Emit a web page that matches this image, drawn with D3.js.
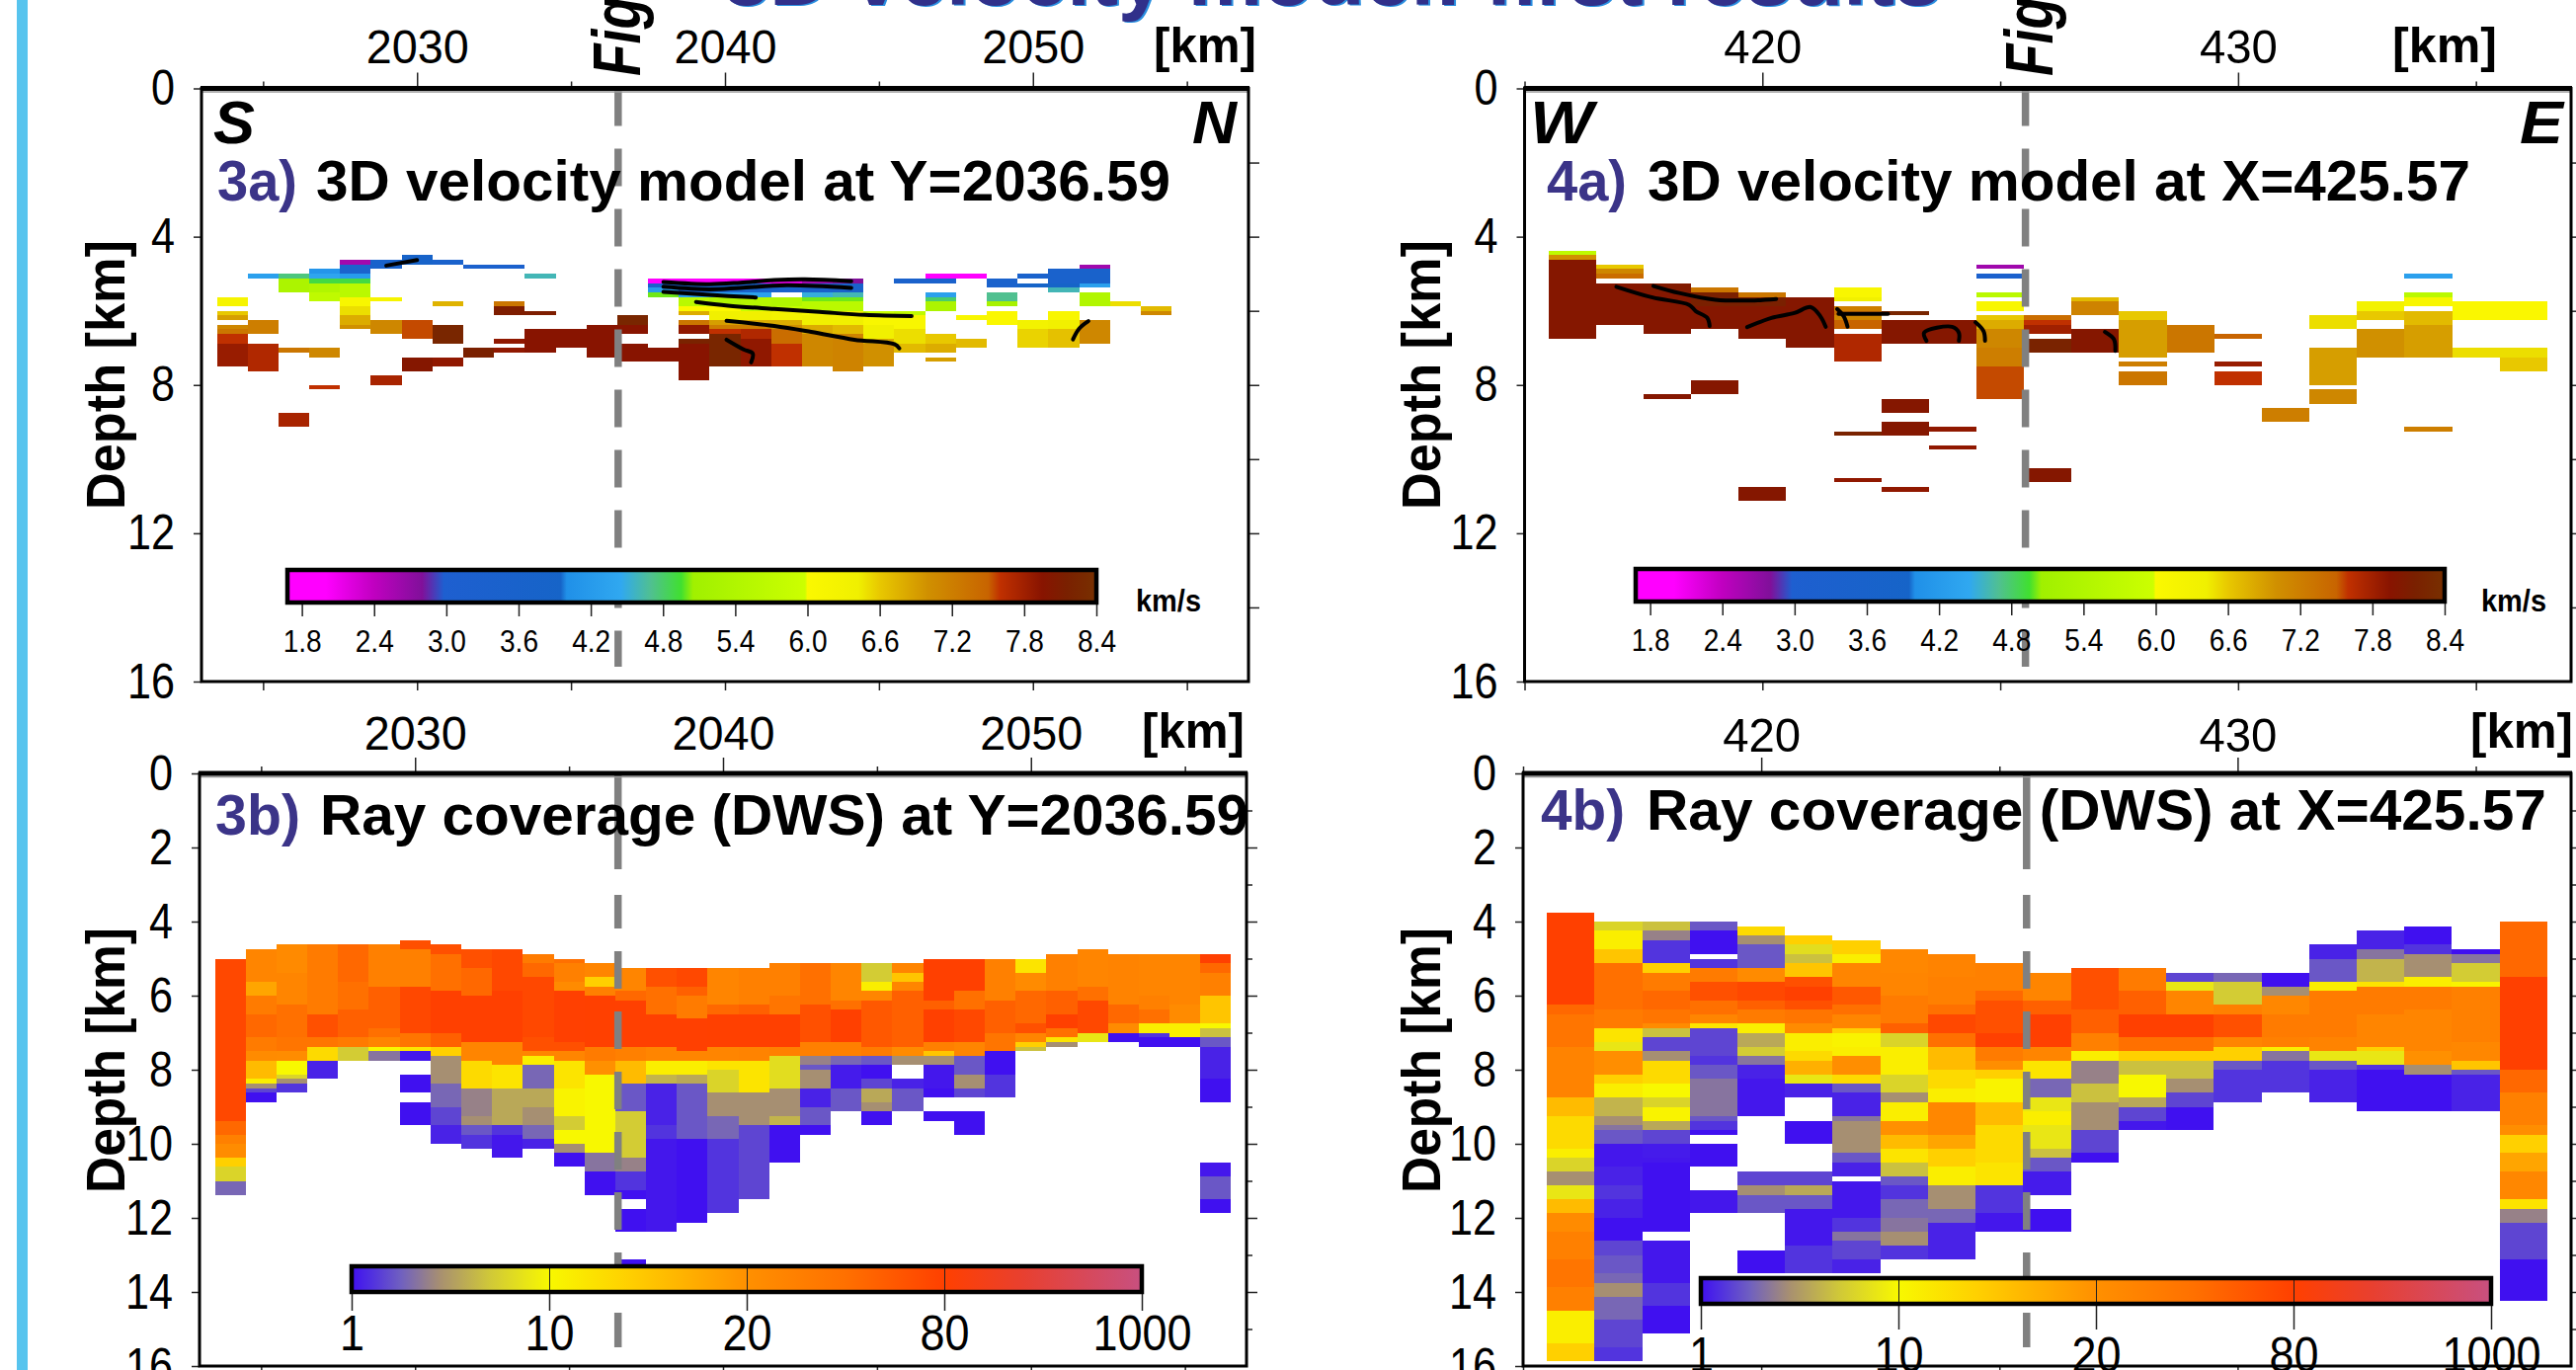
<!DOCTYPE html>
<html><head><meta charset="utf-8">
<script src="https://cdnjs.cloudflare.com/ajax/libs/d3/7.8.5/d3.min.js"></script>
<style>html,body{margin:0;padding:0;background:#fff;overflow:hidden}svg{display:block}text{font-family:"Liberation Sans",Arial,sans-serif}</style>
</head><body><svg id="c" width="2608" height="1387"></svg>
<script>
// ---- colour tables ----
const velStops=[1.68,2.0,2.4,2.8,2.98,3.95,4.0,4.45,4.7,4.95,5.05,5.98,6.0,6.42,6.6,7.0,7.5,7.6,7.95,8.15,8.4];
const velColors=["#ff00ff","#ff00ff","#c000c0","#80109a","#1e5fd0","#1664c8","#2090e8","#30a8f0","#50c090","#40e030","#a0f000","#ccff00","#fbf800","#f0f000","#e8c800","#d09000","#c86400","#c03000","#881400","#7a2000","#783000"];
const dwsTicks=[1,10,20,80,1000];
const dwsPos=[0,1,2,3,4];
const dwsColorPos=[0,0.1,0.25,0.45,0.7,1,1.4,2,2.5,3,3.4,4];
const dwsColors=["#4010f0","#5030e0","#7060c0","#a89070","#d0c838","#f8f800","#ffd000","#ff9000","#ff7000","#ff4000","#e84030","#c85080"];
const velTicks=[1.8,2.4,3.0,3.6,4.2,4.8,5.4,6.0,6.6,7.2,7.8,8.4];

// ---- section 3a: velocity, one list per 1-km column from 2024 km, [top depth, km/s], null = no data ----
const vel3a=[
[[5.625,6.2],[5.875,null],[6,6.6],[6.125,6.9],[6.25,null],[6.375,7.1],[6.5,7.3],[6.625,7.6],[6.875,7.85],[7.5,null]],
[[5,4.3],[5.125,null],[6.25,7.2],[6.625,null],[6.875,7.7],[7.625,null]],
[[5,4.75],[5.125,5.3],[5.5,null],[7,7.3],[7.125,null],[8.75,7.75],[9.125,null]],
[[4.875,4.1],[5,4.4],[5.125,4.9],[5.25,5.4],[5.5,5.7],[5.75,null],[7,7.1],[7.25,null],[8,7.6],[8.125,null]],
[[4.625,2.6],[4.75,3.5],[5,4.2],[5.125,4.9],[5.25,5.6],[5.625,6.1],[5.875,6.5],[6.125,6.8],[6.375,7.0],[6.5,null]],
[[4.625,3.6],[4.875,null],[5.625,6.2],[5.75,null],[6.25,7.1],[6.625,null],[7.75,7.75],[8,null]],
[[4.5,3.8],[4.75,null],[6.25,7.55],[6.75,null],[7.25,8.0],[7.625,null]],
[[4.625,3.5],[4.75,null],[5.75,6.75],[5.875,null],[6.375,8.25],[6.875,null],[7.25,7.9],[7.5,null]],
[[4.75,3.4],[4.875,null],[7,8.15],[7.25,null]],
[[4.75,3.4],[4.875,null],[5.75,7.3],[5.875,8.1],[6.125,null],[6.75,7.9],[6.875,null],[7,7.9],[7.125,null]],
[[5,4.6],[5.125,null],[6,8.1],[6.125,null],[6.5,7.95],[7.125,null]],
[[6.5,7.95],[7,null]],
[[6.375,7.95],[7.25,null]],
[[6.125,8.25],[6.375,7.95],[6.625,null],[6.875,7.95],[7.375,null]],
[[5.125,2.0],[5.25,3.4],[5.375,4.2],[5.5,5.0],[5.625,null],[7,7.95],[7.375,null]],
[[5.125,2.0],[5.25,3.5],[5.5,4.3],[5.625,5.6],[5.875,6.0],[6,6.8],[6.125,null],[6.25,7.3],[6.375,7.9],[6.625,null],[6.75,8.2],[6.875,7.95],[7.875,null]],
[[5.125,2.0],[5.25,3.6],[5.5,4.3],[5.625,5.4],[5.875,6.0],[6,6.4],[6.25,6.9],[6.375,7.2],[6.5,7.6],[6.625,8.25],[7.5,null]],
[[5.125,2.0],[5.25,3.6],[5.5,4.3],[5.625,5.5],[5.875,5.9],[6,6.4],[6.25,6.8],[6.375,7.2],[6.5,7.7],[6.75,7.9],[7.5,null]],
[[5.125,2.2],[5.25,3.6],[5.5,null],[5.625,5.4],[5.875,5.8],[6,6.3],[6.25,6.8],[6.375,7.0],[6.5,7.4],[6.875,7.6],[7.5,null]],
[[5.125,2.6],[5.25,3.6],[5.5,4.5],[5.625,5.0],[5.75,5.6],[6,6.1],[6.125,6.4],[6.375,6.8],[6.625,7.1],[7.5,null]],
[[5.125,2.8],[5.25,3.6],[5.5,4.6],[5.625,5.0],[5.75,5.6],[6,6.1],[6.125,6.4],[6.375,6.7],[6.625,7.15],[7.625,null]],
[[6,5.9],[6.125,6.1],[6.375,6.4],[6.75,6.8],[6.875,7.0],[7.5,null]],
[[5.125,3.5],[5.25,null],[6,5.7],[6.125,6.1],[6.5,6.5],[6.875,6.7],[7.125,null]],
[[5,2.0],[5.125,3.5],[5.25,null],[5.5,4.3],[5.625,4.8],[5.75,5.3],[6,null],[6.625,6.6],[6.875,6.8],[7.125,null],[7.25,6.9],[7.375,null]],
[[5,2.0],[5.125,null],[6.125,6.1],[6.25,null],[6.75,6.7],[7,null]],
[[5.125,3.5],[5.375,null],[5.5,4.7],[5.75,5.2],[5.875,null],[6,6.05],[6.375,null]],
[[5,3.5],[5.125,null],[5.25,3.9],[5.375,null],[6.25,6.3],[6.5,6.55],[7,null]],
[[4.875,3.5],[5.25,3.9],[5.375,4.6],[5.5,null],[6,6.1],[6.25,6.4],[6.5,6.65],[7,null]],
[[4.75,2.6],[4.875,3.6],[5.25,4.3],[5.375,null],[5.5,5.4],[5.875,null],[6.25,7.1],[6.875,null]],
[[5.75,6.5],[5.875,null]],
[[5.875,6.7],[6,7.1],[6.125,null]]
];
// ---- section 4a: velocity, columns from 416 km ----
const vel4a=[
[[4.375,5.7],[4.5,7.0],[4.625,8.0],[6.75,null]],
[[4.75,6.6],[4.875,7.1],[5,7.4],[5.125,null],[5.25,8.0],[6.375,null]],
[[5.25,8.05],[5.5,8.0],[6.625,null],[8.25,8.0],[8.375,null]],
[[5.375,7.3],[5.5,8.15],[5.875,8.0],[6.5,null],[7.875,8.0],[8.25,null]],
[[5.5,7.3],[5.625,8.15],[5.875,8.0],[6.75,null],[10.75,8.0],[11.125,null]],
[[5.625,8.0],[7,null]],
[[5.375,6.1],[5.625,6.4],[5.75,null],[5.875,7.2],[6,7.4],[6.125,7.1],[6.25,7.5],[6.5,null],[6.625,7.7],[7.375,null],[9.25,8.2],[9.375,null],[10.5,7.9],[10.625,null]],
[[6,8.25],[6.125,null],[6.25,8.0],[6.875,null],[8.375,8.0],[8.75,null],[9,8.0],[9.375,null],[10.75,7.9],[10.875,null]],
[[6.25,8.0],[6.875,null],[9.125,7.9],[9.25,null],[9.625,7.9],[9.75,null]],
[[4.75,2.6],[4.875,null],[5,3.4],[5.125,null],[5.5,5.6],[5.625,null],[5.75,6.1],[6,null],[6.125,6.6],[6.25,6.8],[6.5,7.1],[7,7.2],[7.5,7.55],[8.375,null]],
[[6.125,7.4],[6.25,7.6],[6.375,7.8],[6.625,null],[6.75,8.2],[7.125,null],[10.25,8.0],[10.625,null]],
[[5.625,6.7],[5.75,7.15],[6.125,null],[6.5,8.0],[7.125,null]],
[[6,6.6],[6.25,6.9],[7.25,null],[7.375,7.2],[7.5,null],[7.625,7.3],[8,null]],
[[6.375,7.3],[7.125,null]],
[[6.625,7.5],[6.75,null],[7.375,7.85],[7.5,null],[7.625,7.6],[8,null]],
[[8.625,7.2],[9,null]],
[[6.125,6.5],[6.5,null],[7,6.9],[8,null],[8.125,7.1],[8.5,null]],
[[5.75,6.3],[6,6.6],[6.25,null],[6.5,7.0],[7.25,null]],
[[5,4.3],[5.125,null],[5.5,5.6],[5.625,6.1],[5.875,null],[6,6.7],[6.375,6.9],[7.25,null],[9.125,7.2],[9.25,null]],
[[5.75,6.05],[6.25,null],[7,6.5],[7.25,null]],
[[5.75,6.05],[6.25,null],[7,6.5],[7.25,6.6],[7.625,null]]
];
// ---- section 3b: ray coverage, columns from 2024 km, [top depth, DWS] ----
const dws3b=[
[[5,75],[9.375,55],[9.75,35],[10,24],[10.375,14],[10.625,8],[11,3.5],[11.375,null]],
[[4.75,30],[5.625,18],[6,40],[6.5,55],[7.125,40],[7.5,25],[7.75,16],[8.25,11],[8.375,5],[8.5,2.5],[8.625,1],[8.875,null]],
[[4.625,26],[5.375,30],[6.25,50],[7.125,45],[7.5,24],[7.75,10],[8.125,8],[8.25,5],[8.375,2],[8.625,null]],
[[4.625,40],[6.5,70],[7.125,45],[7.375,13],[7.75,1.5],[8.25,null]],
[[4.625,55],[5.625,50],[6.375,60],[7.125,40],[7.375,7.5],[7.75,null]],
[[4.625,35],[5.75,60],[6.875,50],[7.125,30],[7.375,10],[7.5,4],[7.75,null]],
[[4.5,70],[4.75,35],[5.75,75],[7,45],[7.375,12],[7.5,1.2],[7.75,null],[8.125,1],[8.625,null],[8.875,1],[9.5,null]],
[[4.625,70],[4.875,50],[5.875,80],[7,60],[7.375,14],[7.625,5],[8.375,3.5],[9,2.5],[9.5,1.5],[10,null]],
[[4.75,70],[5.25,55],[6,80],[7.25,30],[7.75,13],[8.5,4.5],[9.25,5],[9.5,3],[9.75,2],[10.125,null]],
[[4.75,75],[5.875,80],[7.25,30],[7.875,12],[8.5,6],[9.5,2],[9.75,1.2],[10.375,null]],
[[4.875,40],[5.125,55],[5.5,75],[7.125,70],[7.5,30],[7.625,11],[7.875,3.5],[8.5,6],[9,5],[9.5,3.5],[9.875,1.5],[10.125,null]],
[[5,50],[5.125,35],[5.625,25],[5.875,85],[7.25,70],[7.5,30],[7.75,12],[8.5,10.5],[9.25,7.5],[9.625,10],[10,5],[10.25,1],[10.625,null]],
[[5.125,30],[5.5,14],[5.75,35],[6,80],[7.375,40],[7.75,20],[8.125,10],[10.25,4],[10.75,1],[11.375,null]],
[[5.25,30],[5.875,55],[6.125,85],[7.375,35],[7.75,16],[8.375,3],[8.875,3],[9.125,7.5],[10.375,4.5],[10.75,2],[11.25,1],[11.5,null],[11.75,1],[12.375,null],[13.125,1],[13.5,null]],
[[5.25,70],[5.75,50],[6.5,85],[7.375,30],[7.75,11],[8.125,6.5],[8.375,1.5],[9.5,2],[9.875,1.2],[12.375,null]],
[[5.25,75],[5.75,60],[6,40],[6.625,85],[7.5,30],[7.75,11],[8.125,6],[8.375,3],[9.875,1],[12.125,null]],
[[5.25,30],[6.25,55],[6.5,80],[7.375,30],[7.75,12],[8,8],[8.625,5],[9.25,3.5],[9.875,2],[11.875,null]],
[[5.25,35],[6.25,60],[6.5,80],[7.375,32],[7.75,12],[8.625,5],[9.5,2.5],[11.5,null]],
[[5.125,35],[6,45],[6.5,80],[7.375,35],[7.625,8.5],[8.5,5],[9.25,6.5],[9.5,1],[10.5,null]],
[[5.125,50],[6.25,70],[7.25,35],[7.625,4.5],[7.875,3],[8,5],[8.5,1.5],[9,3],[9.5,1],[9.75,null]],
[[5.125,30],[6.125,50],[6.375,80],[7.25,35],[7.625,3.5],[7.875,1.3],[8.5,3],[9.125,null]],
[[5.125,7.5],[5.625,11],[5.875,30],[6.125,65],[7.375,40],[7.625,3],[7.875,1],[8.25,2.5],[8.5,6],[8.875,5],[9.125,1],[9.5,null]],
[[5.125,30],[5.375,15],[5.625,30],[5.875,60],[7.375,25],[7.625,5],[7.875,null],[8.25,1.5],[8.5,3],[9.125,null]],
[[5,80],[6.125,60],[6.375,80],[7.25,35],[7.5,15],[7.625,5],[7.875,1.2],[8.5,1],[8.75,null],[9.125,1],[9.375,null]],
[[5,80],[5.875,50],[6.375,75],[7.25,30],[7.625,3],[8.125,5],[8.5,2.5],[8.75,null],[9.125,1],[9.75,null]],
[[5,35],[6.125,60],[7,45],[7.5,1],[8.125,2],[8.75,null]],
[[5,12],[5.375,25],[5.875,55],[6.75,70],[7,30],[7.25,14],[7.375,7],[7.5,null]],
[[4.875,35],[5.875,60],[6.5,80],[6.875,50],[7.125,12],[7.25,5],[7.375,null]],
[[4.75,30],[5.75,50],[6.125,75],[7,9],[7.25,null]],
[[4.875,32],[6.25,55],[6.75,25],[7,1],[7.25,null]],
[[4.875,30],[6,35],[6.375,50],[6.75,11],[7,2],[7.125,1],[7.375,null]],
[[4.875,30],[6.25,25],[6.75,11],[7.125,1],[7.375,null]],
[[4.875,85],[5.125,55],[5.375,35],[6,15],[6.75,10],[6.875,7],[7.125,3],[7.375,1.5],[8.25,1],[8.875,null],[10.5,1.2],[10.875,3],[11.5,1],[11.875,null]]
];
// ---- section 4b: ray coverage, columns from 416 km ----
const dws4b=[
[[3.75,80],[6.25,55],[6.5,45],[7.375,32],[8.75,16],[9.25,13],[10.125,11],[10.375,8],[10.75,5],[11.125,9],[11.5,16],[11.875,25],[12.375,35],[13.125,45],[13.875,35],[14.5,11],[15.375,14],[15.875,null]],
[[4,8],[4.25,11],[4.75,15],[5.125,50],[6.375,40],[6.875,12],[7.25,9],[7.5,22],[8.125,14],[8.375,11],[8.75,6.5],[9.25,5],[9.5,4],[9.625,3],[10,1.2],[10.625,1.5],[11.125,2],[11.5,1.5],[12,1],[12.625,2.5],[13,3],[13.5,3.5],[13.75,5],[14.125,3.5],[14.75,2.5],[15.5,2],[15.875,null]],
[[4,7],[4.25,4.5],[4.5,2],[5.125,14],[5.375,40],[5.875,55],[6.375,45],[6.75,25],[6.875,7],[7.125,2.5],[7.5,5],[7.75,13],[8.375,10],[8.75,8],[9,10.5],[9.375,6],[9.625,2.5],[10,1.3],[10.375,1.2],[10.5,1],[12.375,null],[12.625,1.2],[13.75,2],[14.375,1],[15.125,null]],
[[4,3],[4.25,1],[4.875,null],[5,2],[5.25,40],[5.625,70],[6.125,50],[6.5,30],[6.75,12],[6.875,2.5],[7.625,2],[7.875,3],[8.25,4],[9.25,3],[9.375,2],[9.625,1],[9.75,null],[10,1],[10.625,null],[11.25,1.2],[11.875,null]],
[[4.125,13],[4.375,5],[4.625,3],[5.25,25],[5.625,75],[6.125,60],[6.375,40],[6.75,11],[7,6],[7.375,7.5],[7.625,4],[7.875,1.5],[8.25,1.2],[9.25,null],[10.75,2.5],[11.125,5],[11.375,3],[11.875,null],[12.875,1],[13.5,null]],
[[4.375,14],[4.625,8.5],[4.875,7],[5.125,15],[5.5,70],[5.75,80],[6.125,70],[6.375,45],[6.75,25],[7,11],[7.5,13],[7.75,17],[8.125,9],[8.375,1.5],[8.75,null],[9.375,1],[10,null],[10.75,2.5],[11.125,6],[11.375,3],[11.75,1.2],[12.75,2],[13.5,null]],
[[4.5,14],[4.875,11],[5.125,30],[5.75,65],[6.25,50],[6.5,30],[6.875,14],[7,10.5],[7.375,11],[7.625,22],[8.125,13],[8.375,3],[8.625,1.5],[9.25,4],[9.375,5],[10.25,3],[10.5,1.5],[10.875,null],[11,1.2],[12,2],[12.375,4],[12.625,2.5],[13.125,1.5],[13.5,null]],
[[4.75,28],[5.375,30],[6,40],[6.75,60],[7,8],[7.375,11],[8.125,8],[8.625,5],[8.875,11],[9.375,20],[9.75,16],[10.125,12],[10.5,7],[10.875,3],[11.125,2],[11.5,3.5],[12,4],[12.375,5],[12.75,2],[13.125,null]],
[[4.875,32],[5.5,35],[6.25,50],[6.5,75],[7,50],[7.375,16],[8,13],[8.5,11],[8.875,28],[9.75,18],[10.125,14],[10.625,11],[11.125,5],[11.75,3.5],[12.125,1.5],[13.125,null]],
[[5.125,35],[5.875,55],[6.125,70],[7,85],[7.375,40],[7.75,22],[8,14],[8.25,10.5],[8.875,16],[9.5,13],[10.5,12],[11.125,2],[11.875,1.2],[12.375,null]],
[[5.375,30],[6.125,60],[6.5,85],[7.375,30],[7.75,12],[8.25,3.5],[8.75,9],[9.125,11],[9.5,9],[10.125,7],[10.375,3],[10.75,1.3],[11.375,null],[11.75,1],[12.375,null]],
[[5.25,70],[6.375,60],[7,35],[7.5,11],[7.75,4.5],[8.375,7],[8.875,5],[9.625,2.5],[10.25,1],[10.5,null]],
[[5.25,40],[5.875,60],[6.5,80],[7.125,50],[7.5,14],[7.75,7],[8.125,10],[8.75,6],[9,2.5],[9.375,1.2],[9.625,null]],
[[5.375,2.5],[5.625,9],[5.875,30],[6.5,80],[7.125,50],[7.5,14],[7.75,7],[8.25,5],[8.625,2.5],[9,1],[9.625,null]],
[[5.375,3.5],[5.625,7.5],[6.25,35],[6.5,70],[7.125,30],[7.375,14],[7.75,3],[8,2],[8.875,null]],
[[5.375,1],[5.75,5],[6,28],[6.5,40],[7.125,35],[7.375,11],[7.5,4],[7.75,2],[8.625,null]],
[[4.625,1.5],[5,3],[5.625,11],[5.875,40],[7.125,32],[7.5,9],[7.75,3],[8,1.5],[8.875,null]],
[[4.25,1.5],[4.75,4],[5,6.5],[5.625,12],[5.75,40],[6.5,30],[7.375,14],[7.5,9],[7.875,2],[8,1],[9.125,null]],
[[4.125,1],[4.625,2],[4.875,5],[5.5,11],[5.75,40],[6.375,30],[7.5,20],[7.875,5],[8.125,1],[9.125,null]],
[[4.75,1],[4.875,4],[5.125,7.5],[5.625,10.5],[5.75,35],[7.25,28],[7.75,15],[8,3],[8.125,1.5],[9.125,null]],
[[4,55],[5.5,80],[8,55],[8.625,35],[9.5,22],[9.75,14],[10.25,18],[10.75,28],[11.5,12],[11.75,4.5],[12.125,2.5],[13.125,1],[14.25,null]]
];
// ---- interpreted horizons, [km, depth] ----
const horizons3a=[
[[2029,4.78],[2030,4.63]],
[[2038,5.22],[2039.5,5.28],[2040.5,5.24],[2041.6,5.17],[2042.6,5.15],[2044.1,5.2]],
[[2038,5.35],[2039.5,5.42],[2040.5,5.38],[2042,5.31],[2044.1,5.38]],
[[2038,5.49],[2039.5,5.57],[2041,5.64]],
[[2039.06,5.76],[2040.1,5.86],[2041.6,5.95],[2043.07,6.03],[2044.55,6.11],[2046.06,6.14]],
[[2040.05,6.27],[2041.6,6.41],[2042.8,6.57],[2044.2,6.78],[2045.5,6.9],[2045.66,7.01]],
[[2040.05,6.78],[2040.6,7.04],[2040.9,7.15],[2040.85,7.39]],
[[2051.3,6.77],[2051.5,6.48],[2051.8,6.28]]
];
const horizons4a=[
[[416.93,5.35],[417.69,5.64],[418.46,5.84],[418.6,6.01],[418.84,6.19],[418.89,6.41]],
[[417.71,5.33],[418.25,5.52],[419.01,5.7],[419.77,5.72],[420.29,5.68]],
[[419.68,6.44],[420.19,6.19],[420.67,6.06],[421.02,5.9],[421.22,6.15],[421.33,6.43]],
[[421.57,5.95],[421.71,6.15],[421.79,6.43]],
[[421.6,6.08],[422.64,6.08]],
[[423.45,6.81],[423.4,6.59],[423.99,6.43],[424.13,6.59],[424.13,6.81]],
[[424.48,6.31],[424.65,6.55],[424.68,6.81]],
[[427.2,6.57],[427.39,6.77],[427.42,7.08]]
];

// ---- scales ----
const velColor=d3.scaleLinear().domain(velStops).range(velColors);
const dwsToPos=d3.scaleLinear().domain(dwsTicks).range(dwsPos);
const posColor=d3.scaleLinear().domain(dwsColorPos).range(dwsColors);
const dwsColor=v=>posColor(dwsToPos(v));

const svg=d3.select("#c");
let gradId=0;

function txt(p,s,x,y,o={}){
  const t=p.append("text").attr("x",x).attr("y",y).text(s)
   .attr("font-size",o.size||46).attr("fill",o.fill||"#000")
   .attr("font-weight",o.bold?"bold":"normal").attr("font-style",o.italic?"italic":"normal");
  if(o.len)t.attr("textLength",o.len).attr("lengthAdjust","spacingAndGlyphs");
  if(o.rot)t.attr("transform",`rotate(-90 ${x} ${y})`);
  if(o.anchor)t.attr("text-anchor",o.anchor);
  return t;
}
function heat(g,cols,startKm,x,y,color){
  const cells=[];
  cols.forEach((runs,i)=>runs.forEach((r,j)=>{
    if(r[1]==null||j===runs.length-1)return;
    cells.push({km:startKm+i,top:r[0],bot:runs[j+1][0],v:r[1]});
  }));
  g.append("g").attr("shape-rendering","crispEdges").selectAll("rect").data(cells).join("rect")
   .attr("x",d=>x(d.km-0.5)).attr("width",d=>x(d.km+0.5)-x(d.km-0.5))
   .attr("y",d=>y(d.top)).attr("height",d=>y(d.bot)-y(d.top)).attr("fill",d=>color(d.v));
}
function styleAxis(sel,o){
  sel.select(".domain").remove();
  sel.selectAll(".tick line").attr("stroke","#222").attr("stroke-width",o.w||1.5);
  sel.selectAll(".tick text").attr("font-size",o.size||46).attr("fill","#000");
  if(o.len)sel.selectAll(".tick text").attr("textLength",o.len).attr("lengthAdjust","spacingAndGlyphs");
}
function frame(g,p,x,y){
  const L=p.left,R=p.right,T=p.top,B=p.bottom;
  g.append("g").attr("transform",`translate(0,${T})`)
   .call(d3.axisTop(x).tickValues(p.xMajor).tickSize(16).tickPadding(p.xPad).tickFormat(d3.format("d")))
   .call(styleAxis,{size:49,len:p.xLabLen});
  g.append("g").attr("transform",`translate(0,${T})`)
   .call(d3.axisTop(x).tickValues(p.xMinor).tickSize(7).tickFormat("")).call(styleAxis,{});
  g.append("g").attr("transform",`translate(0,${B})`)
   .call(d3.axisBottom(x).tickValues(p.xMajor.concat(p.xMinor)).tickSize(9).tickFormat("")).call(styleAxis,{});
  g.append("g").attr("transform",`translate(${L},0)`)
   .call(d3.axisLeft(y).tickValues(p.yMajor).tickSize(8).tickPadding(19).tickFormat(d3.format("d")))
   .call(styleAxis,{size:50,len:d=>String(d).length*24});
  g.append("g").attr("transform",`translate(${R},0)`)
   .call(d3.axisRight(y).tickValues(p.yRight).tickSize(11).tickFormat("")).call(styleAxis,{});
  if(p.yRightMinor)g.append("g").attr("transform",`translate(${R},0)`)
   .call(d3.axisRight(y).tickValues(p.yRightMinor).tickSize(6).tickFormat("")).call(styleAxis,{});
  g.append("line").attr("x1",L).attr("x2",R).attr("y1",T+3.5).attr("y2",T+3.5).attr("stroke","#999").attr("stroke-width",1.5);
  g.append("rect").attr("x",L).attr("y",T).attr("width",R-L).attr("height",B-T).attr("fill","none").attr("stroke","#000").attr("stroke-width",3);
  g.append("line").attr("x1",L-1).attr("x2",R+1).attr("y1",T).attr("y2",T).attr("stroke","#000").attr("stroke-width",5);
}
function dashed(g,x,y,p){
  g.append("line").attr("x1",x(p.dashKm)).attr("x2",x(p.dashKm)).attr("y1",y(0)).attr("y2",p.dashEnd)
   .attr("stroke","#808080").attr("stroke-width",7.5).attr("stroke-dasharray",p.dashPattern);
}
function bar(g,b){
  const id="grad"+(gradId++);
  const w=b.x1-b.x0;
  const grad=svg.append("defs").append("linearGradient").attr("id",id);
  grad.selectAll("stop").data(b.stops).join("stop")
    .attr("offset",d=>(b.scale(d.v)-b.x0)/w).attr("stop-color",d=>d.c);
  g.append("rect").attr("x",b.x0).attr("y",b.y0).attr("width",w).attr("height",b.y1-b.y0)
   .attr("fill",`url(#${id})`);
  const ax=g.append("g").attr("transform",`translate(0,${b.y1})`)
   .call(d3.axisBottom(b.scale).tickValues(b.ticks).tickSize(b.tickLen).tickPadding(b.pad).tickFormat(b.fmt));
  ax.call(styleAxis,{size:b.size,w:1.5,len:b.len});
  if(b.inner)g.append("g").attr("transform",`translate(0,${b.y0})`)
   .call(d3.axisBottom(b.scale).tickValues(b.ticks).tickSize(b.y1-b.y0).tickFormat("")).call(styleAxis,{w:1});
  g.append("rect").attr("x",b.x0).attr("y",b.y0).attr("width",w).attr("height",b.y1-b.y0)
   .attr("fill","none").attr("stroke","#000").attr("stroke-width",4.5);
}

// left page band + clipped slide title
svg.append("rect").attr("x",17).attr("y",0).attr("width",11).attr("height",1387).attr("fill","#57c4ee");
txt(svg,"3D velocity model: first results",734,6,{size:84,bold:true,fill:"#2a8fe0",len:1233});
txt(svg,"3D velocity model: first results",732,5,{size:84,bold:true,fill:"#31308a",len:1233});

const dashA="38,23";
const dashB="97,26,34,23,38,23,38,23,38,23,38,23,38,23,38,23,38,23,38,23";
const velStopsObj=velStops.map((v,i)=>({v,c:velColors[i]}));
const dwsBarStops=dwsColorPos.map((t,i)=>({v:dwsToPos.invert(t),c:dwsColors[i]}));

const panels=[
 {cols:vel3a,start:2024,left:204,right:1264,top:89.5,bottom:690,dom:[2023,2057],color:velColor,
  xMajor:[2030,2040,2050],xMinor:[2025,2035,2045,2055],xLabLen:104,xPad:10,
  yMajor:[0,4,8,12,16],yRight:[2,4,6,8,10,12,14],dashKm:2036.53,dashEnd:675,dashPattern:dashA,lines:horizons3a,
  pre:["3a)",220,81],title:["3D velocity model at Y=2036.59",320,865],titleY:203,
  km:[1168,63,104],depth:[126,516,273],letters:[["S",216,42],["N",1207,45]],fig:648,
  bar:{x0:291,x1:1110,y0:577,y1:610,dom:[1.68,8.4],kind:"vel",unit:[1150,619]}},
 {cols:vel4a,start:416,left:1543.5,right:2603,top:89.5,bottom:690,dom:[415,437],color:velColor,
  xMajor:[420,430],xMinor:[415,425,435],xLabLen:79,xPad:10,
  yMajor:[0,4,8,12,16],yRight:[2,4,6,8,10,12,14],dashKm:425.53,dashEnd:675,dashPattern:dashA,lines:horizons4a,
  pre:["4a)",1566,81],title:["3D velocity model at X=425.57",1668,833],titleY:203,
  km:[2422,63,106],depth:[1458,516,273],letters:[["W",1549,64],["E",2551,44]],fig:2078,
  bar:{x0:1656,x1:2475,y0:576,y1:609,dom:[1.68,8.4],kind:"vel",unit:[2512,619]}},
 {cols:dws3b,start:2024,left:202,right:1262,top:783,bottom:1383,dom:[2023,2057],color:dwsColor,
  xMajor:[2030,2040,2050],xMinor:[2025,2035,2045,2055],xLabLen:104,xPad:8,
  yMajor:[0,2,4,6,8,10,12,14,16],yRight:[2,4,6,8,10,12,14],yRightMinor:[1,3,5,7,9,11,13,15],dashKm:2036.59,dashEnd:1364,dashPattern:dashB,
  pre:["3b)",218,86],title:["Ray coverage (DWS) at Y=2036.59",324,940],titleY:845,
  km:[1156,757,104],depth:[126,1208,269],letters:[],
  bar:{x0:356,x1:1156,y0:1282,y1:1308,kind:"dws",tickLen:19,labelBase:1369}},
 {cols:dws4b,start:416,left:1542,right:2603,top:783,bottom:1383,dom:[415,437],color:dwsColor,
  xMajor:[420,430],xMinor:[415,425,435],xLabLen:79,xPad:6,
  yMajor:[0,2,4,6,8,10,12,14,16],yRight:[2,4,6,8,10,12,14],yRightMinor:[1,3,5,7,9,11,13,15],dashKm:425.57,dashEnd:1364,dashPattern:dashB,
  pre:["4b)",1560,85],title:["Ray coverage (DWS) at X=425.57",1667,911],titleY:840,
  km:[2501,757,104],depth:[1458,1208,269],letters:[],
  bar:{x0:1722,x1:2522,y0:1294,y1:1320,kind:"dws",tickLen:26,labelBase:1391}}
];

panels.forEach(p=>{
  const g=svg.append("g");
  const x=d3.scaleLinear().domain(p.dom).range([p.left,p.right]);
  const y=d3.scaleLinear().domain([0,16]).range([p.top,p.bottom]);
  heat(g,p.cols,p.start,x,y,p.color);
  (p.lines||[]).forEach(l=>{
    g.append("path").datum(l).attr("fill","none").attr("stroke","#000").attr("stroke-width",4).attr("stroke-linecap","round")
     .attr("d",d3.line().x(d=>x(d[0])).y(d=>y(d[1])).curve(d3.curveCatmullRom));
  });
  dashed(g,x,y,p);
  frame(g,p,x,y);
  txt(g,p.pre[0],p.pre[1],p.titleY,{size:57,bold:true,fill:"#3b3488",len:p.pre[2]});
  txt(g,p.title[0],p.title[1],p.titleY,{size:57,bold:true,len:p.title[2]});
  txt(g,"[km]",p.km[0],p.km[1],{size:50,bold:true,len:p.km[2]});
  txt(g,"Depth [km]",p.depth[0],p.depth[1],{size:56,bold:true,len:p.depth[2],rot:true});
  p.letters.forEach(l=>txt(g,l[0],l[1],145,{size:62,bold:true,italic:true,len:l[2]}));
  if(p.fig)txt(g,"Fig",p.fig,77,{size:68,bold:true,italic:true,len:80,rot:true});
  const b=p.bar;
  if(b.kind==="vel"){
    const s=d3.scaleLinear().domain(b.dom).range([b.x0,b.x1]);
    bar(g,{...b,scale:s,stops:velStopsObj,ticks:velTicks,tickLen:14,pad:13,size:32,len:39,fmt:d3.format(".1f")});
    txt(g,"km/s",b.unit[0],b.unit[1],{size:31,bold:true,len:66});
  }else{
    const step=(b.x1-b.x0)/4;
    const s=d3.scaleLinear().domain(dwsTicks).range(dwsPos.map(i=>b.x0+i*step));
    bar(g,{...b,scale:s,stops:dwsBarStops,ticks:dwsTicks,pad:b.labelBase-b.y1-b.tickLen-38,size:50,len:d=>String(d).length*25,inner:true,fmt:d3.format("d")});
  }
});
</script></body></html>
